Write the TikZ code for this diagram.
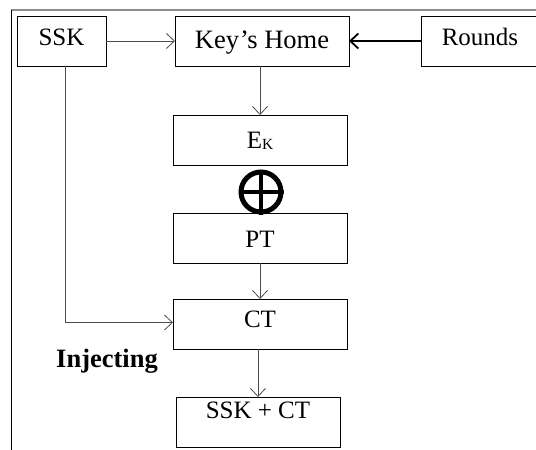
\documentclass[tikz,border=0pt]{standalone}
\usepackage{fontspec}
\setmainfont{Liberation Serif}
\usetikzlibrary{arrows.meta,calc}
\begin{document}
\begin{tikzpicture}[x=1pt,y=-1pt,
  box/.style={draw=black,line width=0.9pt,inner sep=0pt,outer sep=0pt,
    minimum height=50pt,text height=18pt,text depth=#1,
    font=\fontsize{25}{29}\selectfont},
  thinarrow/.style={draw=black!70,line width=0.8pt,
    -{Straight Barb[length=8pt,width=15pt,line width=0.8pt]}},
  thickarrow/.style={draw=black,line width=1.8pt,
    -{Straight Barb[length=8pt,width=15pt,line width=1.8pt]}},
  frametop/.style={draw=black!45,line width=2pt},
  frameleft/.style={draw=black,line width=0.9pt}]
\useasboundingbox (0,0) rectangle (536,450);
% frame
\coordinate (ftl) at (11.5,10);
\coordinate (ftr) at (540,10);
\coordinate (fbl) at (11.5,452);
\draw[frametop] ($(ftl)+(-0.5,0)$) -- (ftr);
\draw[frameleft] (ftl) -- (fbl);
% boxes
\node[box=10pt,minimum width=89pt] (ssk) at (61.5,41) {SSK};
\node[box=4pt,minimum width=174pt,font=\fontsize{26.5}{30}\selectfont] (kh) at (262,41) {Key\kern1pt’s Home};
\node[box=10pt,minimum width=118pt] (rd) at (480,41) {Rounds};
\node[box=2pt,minimum width=174pt] (ek) at (260,140) {E{\fontsize{15.5}{15.5}\selectfont\raisebox{-1pt}{K}}};
\node[box=0pt,minimum width=174pt] (pt) at (260,238) {PT};
\node[box=12pt,minimum width=174pt] (ct) at (260,324) {CT};
\node[box=26pt,minimum width=164pt] (sc) at (258,422) {SSK + CT};
% xor
\node[circle,draw=black,line width=5pt,minimum size=40pt,inner sep=0pt] (xo) at (261,192) {};
\draw[line width=4.5pt] (xo.north) -- (xo.south) (xo.west) -- (xo.east);
% label
\node[font=\fontsize{26.5}{30}\selectfont\bfseries] (inj) at (107,361) {Injecting};
% connectors
\draw[thinarrow] (ssk.east) -- (kh.west);
\draw[thickarrow] (rd.west) -- (kh.east);
\draw[thinarrow] (ek.north |- kh.south) -- (ek.north);
\draw[thinarrow] (pt.south) -- (ct.north);
\draw[thinarrow] (sc.north |- ct.south) -- (sc.north);
\draw[thinarrow] ($(ssk.south)+(3.5,0)$) |- ($(ct.west)+(0,-1.5)$);
\end{tikzpicture}
\end{document}
